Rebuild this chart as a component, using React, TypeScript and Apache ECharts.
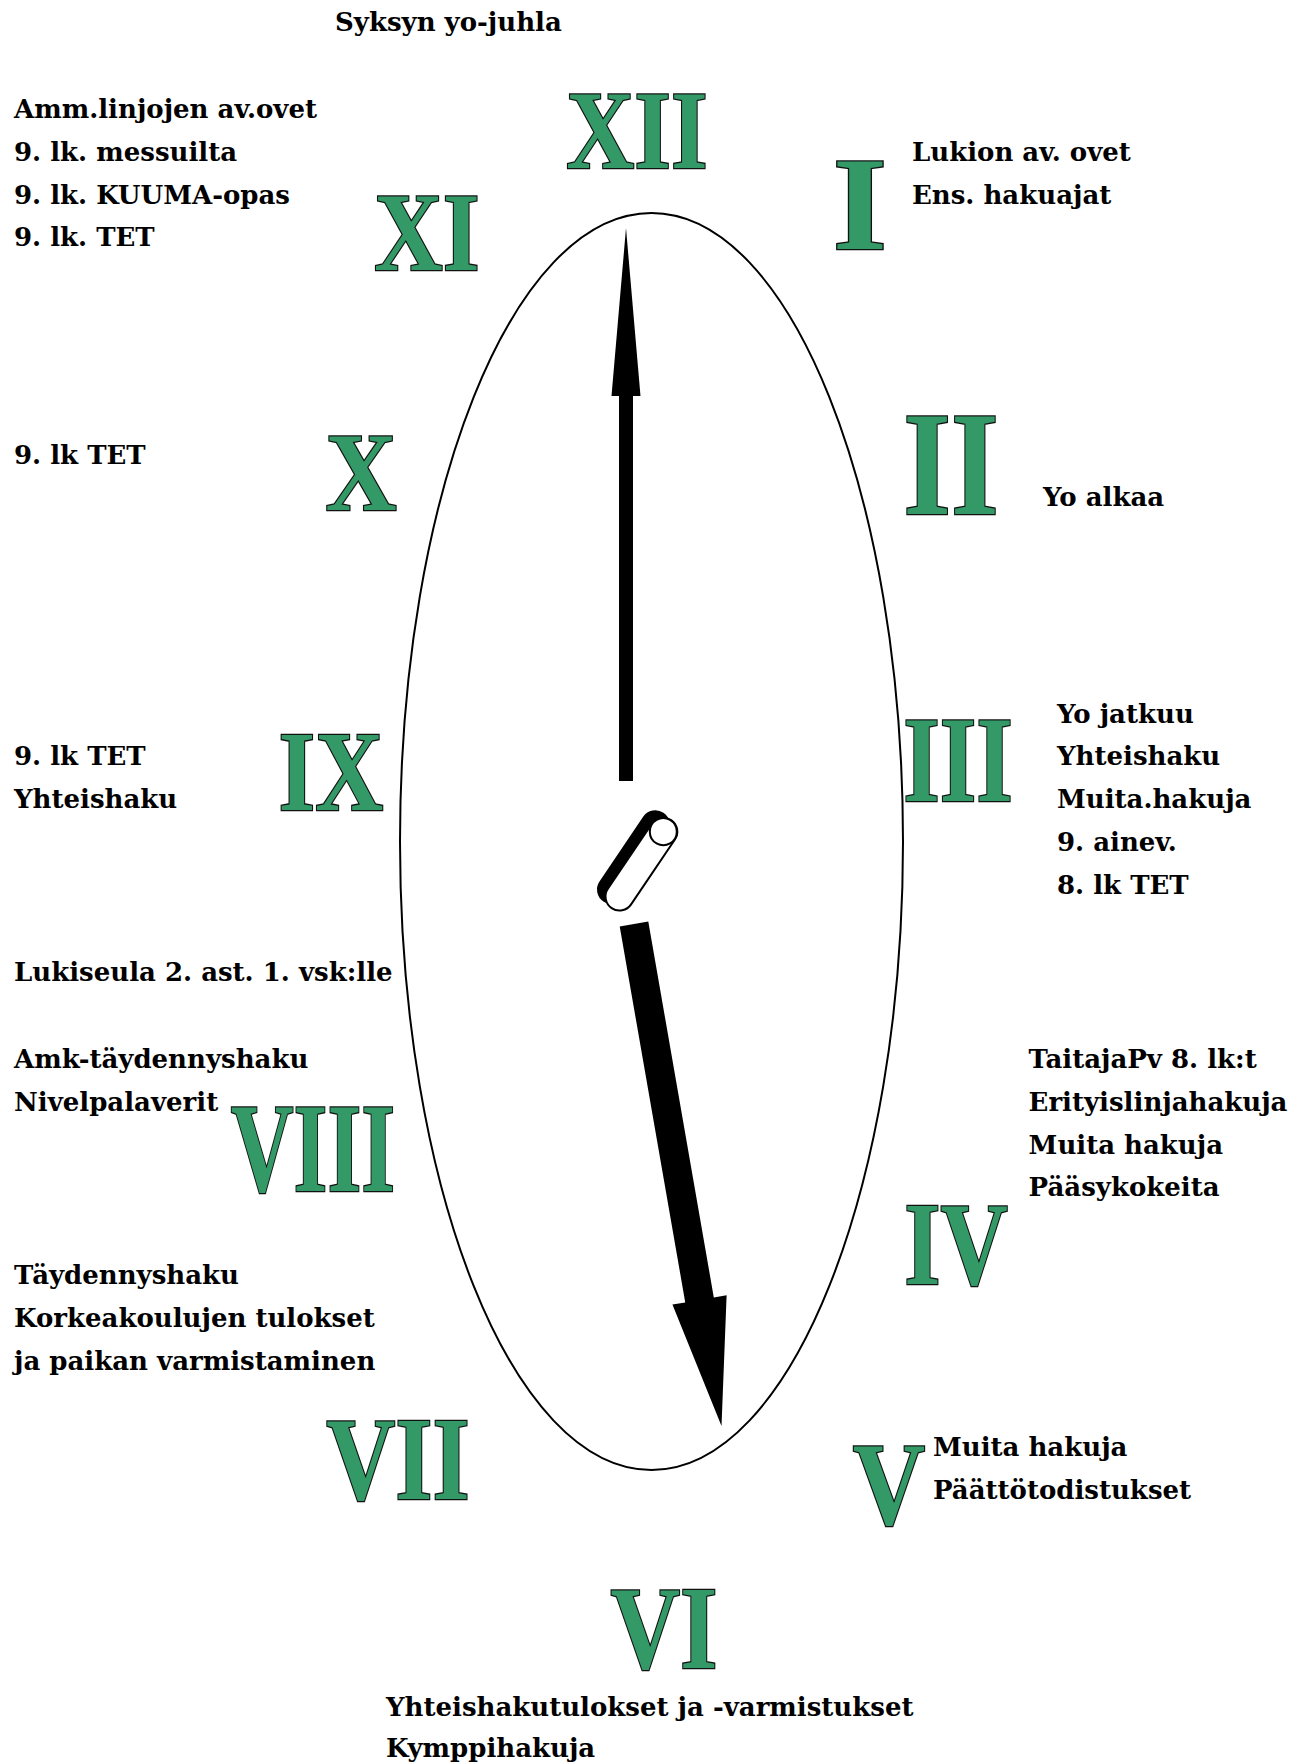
import React, { useEffect, useRef } from "react";
import * as echarts from "echarts";

// ---- content ----
const numerals = ["XII", "I", "II", "III", "IV", "V", "VI", "VII", "VIII", "IX", "X", "XI"];

const labelsTop = ["Syksyn yo-juhla"];
const labelsEleven = ["Amm.linjojen av.ovet", "9. lk. messuilta", "9. lk. KUUMA-opas", "9. lk. TET"];
const labelsOne = ["Lukion av. ovet", "Ens. hakuajat"];
const labelsTwo = ["Yo alkaa"];
const labelsTen = ["9. lk TET"];
const labelsThree = ["Yo jatkuu", "Yhteishaku", "Muita.hakuja", "9. ainev.", "8. lk TET"];
const labelsNine = ["9. lk TET", "Yhteishaku"];
const labelsBetween = ["Lukiseula 2. ast. 1. vsk:lle"];
const labelsEight = ["Amk-täydennyshaku", "Nivelpalaverit"];
const labelsFour = ["TaitajaPv 8. lk:t", "Erityislinjahakuja", "Muita hakuja", "Pääsykokeita"];
const labelsSeven = ["Täydennyshaku", "Korkeakoulujen tulokset", "ja paikan varmistaminen"];
const labelsFive = ["Muita hakuja", "Päättötodistukset"];
const labelsSix = ["Yhteishakutulokset ja -varmistukset", "Kymppihakuja"];

// ---- layout (positions/styles) ----
const W = 1310;
const H = 1764;
const GREEN = "#339966";
const BODY_FONT = 'bold 26px "DejaVu Serif"';
const STEP = 42.8;

const numeralCenters = [
  [637, 130], [860, 204], [951, 464], [958, 760], [956, 1244], [889, 1484],
  [664, 1628], [398, 1459], [313, 1148], [331, 771], [361, 472], [427, 232],
];
const numeralSizes = [113, 133, 148, 122, 118, 118, 119, 118, 128, 115, 112, 113];
const numeralScaleX = [0.835, 1.05, 0.83, 0.77, 0.79, 0.85, 0.81, 0.81, 0.68, 0.82, 0.88, 0.84];

const blocks: { lines: string[]; x: number; y: number; step: number }[] = [
  { lines: labelsTop, x: 335, y: 22, step: STEP },
  { lines: labelsEleven, x: 14, y: 109, step: STEP },
  { lines: labelsOne, x: 912, y: 152, step: STEP },
  { lines: labelsTwo, x: 1043, y: 497, step: STEP },
  { lines: labelsTen, x: 14, y: 455, step: STEP },
  { lines: labelsThree, x: 1057, y: 713.5, step: STEP },
  { lines: labelsNine, x: 14, y: 756, step: STEP },
  { lines: labelsBetween, x: 14, y: 972, step: STEP },
  { lines: labelsEight, x: 14, y: 1059, step: STEP },
  { lines: labelsFour, x: 1028.6, y: 1059, step: STEP },
  { lines: labelsSeven, x: 14, y: 1275, step: STEP },
  { lines: labelsFive, x: 933, y: 1447, step: STEP },
  { lines: labelsSix, x: 386, y: 1707, step: 40.5 },
];

function buildElements(): any[] {
  const els: any[] = [];

  // clock face
  els.push({
    type: "ellipse",
    shape: { cx: 651.5, cy: 841.5, rx: 251.5, ry: 628.5 },
    style: { fill: "none", stroke: "#000", lineWidth: 2 },
    z: 1,
  });

  // minute hand (pointing up)
  els.push({
    type: "rect",
    shape: { x: 619, y: 390, width: 14, height: 391 },
    style: { fill: "#000" },
    z: 2,
  });
  els.push({
    type: "polygon",
    shape: { points: [[626, 228], [640.5, 396], [611.5, 396]] },
    style: { fill: "#000" },
    z: 2,
  });

  // hour hand (pointing down-right)
  const top = [634, 924];
  const tip = [721.5, 1426];
  const len = Math.hypot(tip[0] - top[0], tip[1] - top[1]);
  const d = [(tip[0] - top[0]) / len, (tip[1] - top[1]) / len];
  const n = [d[1], -d[0]];
  const headLen = 128;
  const headHalf = 27.5;
  const shaftHalf = 14.5;
  const base = [tip[0] - d[0] * headLen, tip[1] - d[1] * headLen];
  const p = (c: number[], s: number) => [c[0] + n[0] * s, c[1] + n[1] * s];
  els.push({
    type: "polygon",
    shape: {
      points: [
        p(top, shaftHalf),
        p(base, shaftHalf),
        p(base, headHalf),
        tip,
        p(base, -headHalf),
        p(base, -shaftHalf),
        p(top, -shaftHalf),
      ],
    },
    style: { fill: "#000" },
    z: 2,
  });

  // center knob (cylinder)
  const kb = [619.5, 896.5];
  const kt = [663.3, 831.7];
  els.push({
    type: "line",
    shape: { x1: kb[0] - 8, y1: kb[1] - 7, x2: kt[0] - 8, y2: kt[1] - 7 },
    style: { stroke: "#000", lineWidth: 29, lineCap: "round" },
    z: 3,
  });
  els.push({
    type: "line",
    shape: { x1: kb[0], y1: kb[1], x2: kt[0], y2: kt[1] },
    style: { stroke: "#000", lineWidth: 30, lineCap: "round" },
    z: 4,
  });
  els.push({
    type: "line",
    shape: { x1: kb[0], y1: kb[1], x2: kt[0], y2: kt[1] },
    style: { stroke: "#fff", lineWidth: 26, lineCap: "round" },
    z: 5,
  });
  els.push({
    type: "circle",
    shape: { cx: kt[0], cy: kt[1], r: 13.5 },
    style: { fill: "#fff", stroke: "#000", lineWidth: 2 },
    z: 6,
  });

  // numerals
  numerals.forEach((t, i) => {
    const [cx, cy] = numeralCenters[i];
    els.push({
      type: "text",
      x: cx,
      y: cy,
      scaleX: numeralScaleX[i],
      z: 7,
      style: {
        text: t,
        x: 0,
        y: 0,
        font: `bold ${numeralSizes[i]}px "Liberation Serif"`,
        fill: GREEN,
        stroke: "#111",
        lineWidth: 2.6,
        align: "center",
        verticalAlign: "middle",
        textAlign: "center",
        textVerticalAlign: "middle",
      },
    });
  });

  // text blocks
  blocks.forEach((b) => {
    b.lines.forEach((line, j) => {
      els.push({
        type: "text",
        x: b.x,
        y: b.y + j * b.step,
        z: 8,
        style: {
          text: line,
          x: 0,
          y: 0,
          font: BODY_FONT,
          fill: "#000",
          align: "left",
          verticalAlign: "middle",
          textAlign: "left",
          textVerticalAlign: "middle",
        },
      });
    });
  });

  return els;
}

export default function App() {
  const ref = useRef<HTMLDivElement>(null);
  useEffect(() => {
    document.body.style.margin = "0";
    if (!ref.current) return;
    const chart = echarts.init(ref.current, undefined, { renderer: "svg" });
    chart.setOption({
      animation: false,
      backgroundColor: "#fff",
      graphic: { elements: buildElements() },
    });
    return () => chart.dispose();
  }, []);
  return <div ref={ref} style={{ width: W, height: H, background: "#fff" }} />;
}
